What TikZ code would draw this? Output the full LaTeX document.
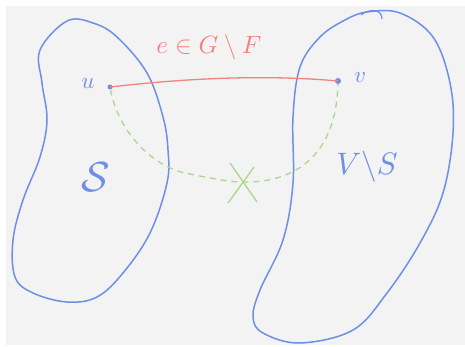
\documentclass[tikz,border=0pt]{standalone}
\usepackage{graphicx}
\usepackage{amssymb}
\definecolor{bg}{HTML}{F3F3F3}
\definecolor{blobblue}{HTML}{6E8FE6}
\definecolor{edgered}{HTML}{F0837F}
\definecolor{pathgreen}{HTML}{A9D88C}
\begin{document}
\begin{tikzpicture}[x=1pt,y=-1pt,
  blob/.style={draw=blobblue,line width=1.5pt,line join=round},
  vdot/.style={circle,fill=blobblue,inner sep=0pt,minimum size=5pt},
  lbl/.style={text=blobblue,inner sep=0pt},
  greenpath/.style={draw=pathgreen,line width=1.3pt,dash pattern=on 6pt off 5pt},
  redpath/.style={draw=edgered,line width=1.3pt}]
\useasboundingbox (0,0) rectangle (465,347);
\fill[white] (0,0) rectangle (465,347);
\fill[bg] (6,6) rectangle (465,345);
% left blob S
\draw[blob] plot[smooth cycle,tension=0.6] coordinates {
 (67,21) (93,23) (117,37) (147,73) (163,117) (168,150) (167,183)
 (150,233) (123,273) (97,297) (67,302) (33,293) (15,277) (13,240)
 (23,200) (40,157) (47,120) (42,83) (40,50)};
% right blob V\S
\draw[blob] plot[smooth cycle,tension=0.6] coordinates {
 (367,12) (400,13) (433,37) (450,83) (453,133) (443,193) (420,243)
 (387,293) (353,330) (300,343) (263,333) (253,317) (260,290)
 (283,240) (293,183) (293,117) (300,67) (320,37) (345,20)};
\draw[blob,line width=1.2pt] (361,15) .. controls (368,9) and (382,8) .. (382,19);
% vertices
\node[vdot] (u) at (110,87) {};
\node[vdot,minimum size=6pt] (v) at (338,81) {};
\node[lbl] (ul) at (88,84) {\scalebox{2.3}{$u$}};
\node[lbl] (vl) at (360,78) {\scalebox{2.3}{$v$}};
% red edge
\draw[redpath] (u.center) .. controls (180,79) and (260,74) .. (v.center);
\node[text=edgered,inner sep=0pt] (el) at (209,47) {\scalebox{2.5}{$e\in G\setminus F$}};
% green path
\coordinate (x) at (243,182);
\draw[greenpath] (u) .. controls (118,130) and (150,165) .. (185,173)
  .. controls (210,178) and (228,182) .. (x)
  .. controls (290,183) and (336,160) .. (v);
\draw[pathgreen,line width=1.3pt] (230,163) -- (257,202) (254,167) -- (228,203);
% set labels
\node[lbl] (S) at (96,177) {\scalebox{4.2}{$\mathcal{S}$}};
\node[lbl] (VS) at (367,167) {\scalebox{3.1}{$V{\setminus}S$}};
\end{tikzpicture}
\end{document}
